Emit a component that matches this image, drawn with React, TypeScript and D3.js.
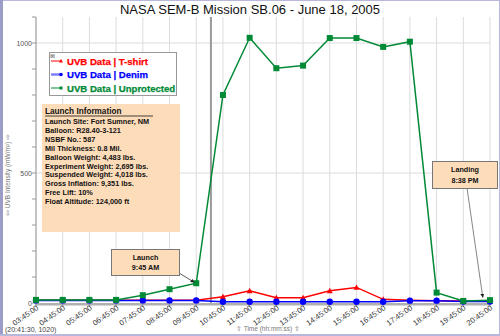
import React from "react";
import * as d3 from "d3";

const times = ["03:45:00","04:45:00","05:45:00","06:45:00","07:45:00","08:45:00","09:45:00","10:45:00","11:45:00","12:45:00","13:45:00","14:45:00","15:45:00","16:45:00","17:45:00","18:45:00","19:45:00","20:45:00"];
const tshirt = [11,11,11,11,11,11,11,24,47,20,20,47,60,14,11,9,8,8];
const denim = [10,10,10,10,10,10,10,5,5,5,5,5,5,5,9,9,6,6];
const unprotected = [12,12,12,12,30,53,76,800,1020,903,913,1019,1019,985,1005,40,8,11];
const yTicks = [0,500,1000];
const launchInfo = [
  "Launch Site:  Fort Sumner, NM",
  "Balloon:  R28.40-3-121",
  "NSBF No.:  587",
  "Mil Thickness: 0.8  Mil.",
  "Balloon Weight:  4,483 lbs.",
  "Experiment Weight:  2,695 lbs.",
  "Suspended Weight:  4,018 lbs.",
  "Gross Inflation:  9,351 lbs.",
  "Free Lift:  10%",
  "Float Altitude: 124,000 ft",
];
const cursorIndex = 6.55;
const launchIndex = 6;
const landingIndex = 16.88;
const landingValue = 14;

const W = 500, H = 336;
const L = 36, R = 490, T = 17, B = 303;

export default function App() {
  const x = d3.scaleLinear().domain([0, times.length - 1]).range([L, R]);
  const y = d3.scaleLinear().domain([0, 1100]).range([B, T]);
  const line = d3.line<number>().x((_, i) => x(i)).y(d => y(d));
  const minor = d3.range(0, 1101, 100);
  const red = "#ff0000", blue = "#0000ff", green = "#008a35";
  const font = "Liberation Sans, Arial, sans-serif";
  const tri = (cx: number, cy: number, s: number) => `M${cx},${cy - s}L${cx + s},${cy + s * 0.8}L${cx - s},${cy + s * 0.8}Z`;

  return (
    <svg width={W} height={H} style={{ position: "absolute", left: 0, top: 0, background: "#fff" }} fontFamily={font}>
      <defs>
        <marker id="arr" viewBox="0 0 10 10" refX="9" refY="5" markerWidth="5" markerHeight="5" orient="auto">
          <path d="M0,0L10,5L0,10Z" fill="#222" />
        </marker>
      </defs>
      <rect x={0.5} y={0.5} width={W - 1} height={H - 1} fill="#fff" stroke="#b8b8dc" />
      <rect x={0} y={0} width={3} height={H} fill="#9c9cc8" />
      <rect x={0} y={H - 2} width={W} height={2} fill="#b8b8dc" />
      <text x={250} y={14} textAnchor="middle" fontSize={13} fill="#111">NASA SEM-B Mission SB.06 - June 18, 2005</text>

      {/* grid */}
      {times.map((t, i) => (
        <line key={t} x1={x(i)} x2={x(i)} y1={T} y2={B} stroke="#dcdcdc" strokeWidth={1} />
      ))}
      {[500, 1000].map(v => (
        <line key={v} x1={L} x2={R} y1={y(v)} y2={y(v)} stroke="#dcdcdc" />
      ))}
      <line x1={x(cursorIndex)} x2={x(cursorIndex)} y1={T} y2={B} stroke="#9a9a9a" strokeWidth={2} />

      {/* axes */}
      <line x1={L} x2={L} y1={T} y2={B + 2} stroke="#999" />
      {minor.map(v => (
        <line key={v} x1={L - 4} x2={L} y1={y(v)} y2={y(v)} stroke="#999" />
      ))}
      {yTicks.map(v => (
        <text key={v} x={L - 4} y={y(v) + 2.5} textAnchor="end" fontSize={7} fill="#555">{v}</text>
      ))}
      <rect x={L} y={B} width={R - L + 1} height={2.5} fill="#b0b0b0" />
      {times.map((t, i) => (
        <g key={t}>
          <line x1={x(i)} x2={x(i)} y1={B} y2={B + 4} stroke="#999" />
          <text transform={`translate(${x(i) + 3},${B + 6}) rotate(-35)`} textAnchor="end" fontSize={7.6} fill="#333">{t}</text>
        </g>
      ))}
      <text transform={`translate(10,175) rotate(-90)`} textAnchor="middle" fontSize={6.5} fill="#777">⇦   UVB Intensity (mW/m²)   ⇨</text>
      <text x={236} y={331} fontSize={6.5} fill="#777">⇧ Time (hh:mm:ss) ⇧</text>
      <text x={5} y={332} fontSize={7} fill="#444">(20:41:30, 1020)</text>

      {/* series */}
      <path d={line(tshirt) || ""} fill="none" stroke={red} strokeWidth={1.5} />
      {tshirt.map((v, i) => <path key={i} d={tri(x(i), y(v), 3)} fill={red} />)}
      <path d={line(denim) || ""} fill="none" stroke={blue} strokeWidth={1.5} />
      {denim.map((v, i) => <circle key={i} cx={x(i)} cy={y(v)} r={3.2} fill={blue} />)}
      <path d={line(unprotected) || ""} fill="none" stroke={green} strokeWidth={1.5} />
      {unprotected.map((v, i) => <rect key={i} x={x(i) - 3} y={y(v) - 3} width={6} height={6} fill={green} />)}

      {/* legend */}
      <rect x={49.5} y={52.5} width={127} height={43} fill="#fff" stroke="#999" />
      <text x={50} y={58} fontSize={6} fill="#555">⊠</text>
      {[["UVB Data | T-shirt", red], ["UVB Data | Denim", blue], ["UVB Data | Unprotected", green]].map(([label, c], i) => (
        <g key={label}>
          <line x1={51} x2={62} y1={61 + i * 13.5} y2={61 + i * 13.5} stroke={c} strokeWidth={i === 1 ? 2.5 : 1} opacity={i === 1 ? 0.5 : 1} />
          {i === 0 && <path d={tri(61, 61, 2)} fill={c} />}
          {i === 1 && <circle cx={61} cy={74.5} r={1.8} fill={c} />}
          {i === 2 && <rect x={59.5} y={86.5} width={3} height={3} fill={c} />}
          <text x={67} y={64.5 + i * 13.5} fontSize={9.6} fontWeight="bold" fill={c} stroke={c} strokeWidth={0.25}>{label}</text>
        </g>
      ))}

      {/* launch info */}
      <rect x={42} y={104} width={138} height={128} fill="#fddcba" />
      <text x={45} y={114} fontSize={8.2} fontWeight="bold" fill="#111">Launch Information</text>
      <line x1={45} x2={153} y1={116} y2={116} stroke="#111" strokeWidth={0.8} />
      {launchInfo.map((s, i) => (
        <text key={s} x={45} y={124 + i * 8.9} fontSize={7.3} fontWeight="bold" fill="#111">{s}</text>
      ))}

      {/* annotations */}
      <line x1={179} y1={273} x2={x(launchIndex) - 2} y2={y(unprotected[launchIndex]) - 1} stroke="#333" strokeWidth={0.8} markerEnd="url(#arr)" />
      <rect x={111.5} y={249.5} width={68} height={26} fill="#fddcba" stroke="#777" />
      <text x={145.5} y={259.5} textAnchor="middle" fontSize={7.2} fontWeight="bold" fill="#111">Launch</text>
      <text x={145.5} y={270} textAnchor="middle" fontSize={7.2} fontWeight="bold" fill="#111">9:45 AM</text>

      <line x1={467} y1={188} x2={x(landingIndex) - 4} y2={y(landingValue) - 2} stroke="#666" strokeWidth={0.8} markerEnd="url(#arr)" />
      <rect x={432.5} y={161.5} width={65} height={27} fill="#fddcba" stroke="#777" />
      <text x={465} y={172} textAnchor="middle" fontSize={7.2} fontWeight="bold" fill="#111">Landing</text>
      <text x={465} y={182.5} textAnchor="middle" fontSize={7.2} fontWeight="bold" fill="#111">8:38 PM</text>
    </svg>
  );
}
